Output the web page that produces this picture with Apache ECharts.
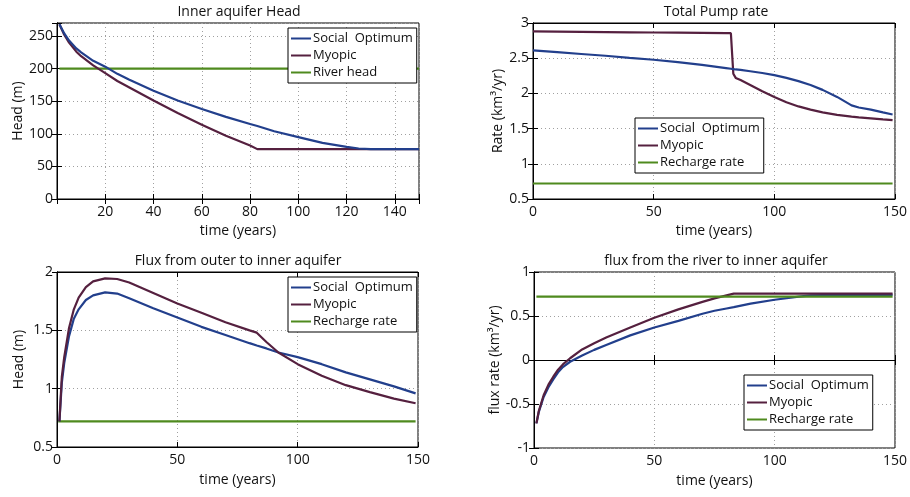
<!DOCTYPE html>
<html>
<head>
<meta charset="utf-8">
<script src="https://cdn.jsdelivr.net/npm/echarts@6/dist/echarts.min.js"></script>
<style>
  html, body { margin: 0; padding: 0; background: #fff; }
  #chart { width: 910px; height: 497px; }
</style>
</head>
<body>
<div id="chart"></div>
<script>
// ---- Inner aquifer head (m) ----
const headTime    = [1, 3, 5, 8, 10, 15, 20, 25, 30, 40, 50, 60, 70, 80, 83, 90, 100, 110, 120, 125, 130, 140, 150];
const headSocial  = [268, 254, 243, 231, 225, 212, 203, 192, 183, 166, 151, 138, 126, 115, 112, 104, 95, 86, 80, 77.5, 76.5, 76.5, 76.5];
const headMyopic  = [268, 252, 240, 226, 219, 205, 193, 181, 171, 151, 132, 114, 97, 82, 76.5, 76.5, 76.5, 76.5, 76.5, 76.5, 76.5, 76.5, 76.5];
const riverTime   = [1, 150];
const riverHead   = [200, 200];

// ---- Total pump rate (km3/yr) ----
const pumpTime    = [0, 10, 20, 30, 40, 50, 60, 70, 80, 82, 83, 84, 86, 90, 95, 100, 105, 110, 115, 120, 126, 132, 135, 140, 145, 149];
const pumpSocial  = [2.61, 2.585, 2.56, 2.535, 2.505, 2.478, 2.445, 2.405, 2.36, 2.35, 2.345, 2.34, 2.335, 2.315, 2.29, 2.26, 2.22, 2.175, 2.12, 2.05, 1.95, 1.83, 1.80, 1.77, 1.73, 1.70];
const pumpMyopic  = [2.88, 2.877, 2.874, 2.871, 2.868, 2.865, 2.862, 2.859, 2.856, 2.855, 2.28, 2.22, 2.19, 2.12, 2.03, 1.95, 1.875, 1.815, 1.77, 1.73, 1.695, 1.67, 1.66, 1.645, 1.63, 1.62];
const rechargeTimeA = [0, 149];
const rechargeA     = [0.72, 0.72];

// ---- Flux from outer to inner aquifer ----
const outerTime   = [1, 2, 3, 5, 7, 9, 12, 15, 20, 25, 30, 40, 50, 60, 70, 80, 83, 87, 92, 100, 110, 120, 130, 140, 149];
const outerSocial = [0.72, 1.05, 1.22, 1.45, 1.6, 1.68, 1.76, 1.80, 1.825, 1.815, 1.775, 1.69, 1.61, 1.53, 1.46, 1.39, 1.37, 1.345, 1.31, 1.27, 1.21, 1.14, 1.08, 1.02, 0.96];
const outerMyopic = [0.72, 1.1, 1.27, 1.52, 1.68, 1.78, 1.87, 1.92, 1.945, 1.94, 1.91, 1.82, 1.73, 1.65, 1.57, 1.50, 1.48, 1.40, 1.31, 1.21, 1.11, 1.03, 0.97, 0.915, 0.875];
const rechargeTimeB = [0.5, 149];
const rechargeB     = [0.72, 0.72];

// ---- Flux from the river to inner aquifer ----
const riverFluxTime   = [1, 2, 4, 6, 8, 10, 12, 15, 20, 25, 30, 40, 50, 60, 70, 75, 80, 83, 90, 100, 110, 115, 120, 149];
const riverFluxSocial = [-0.72, -0.59, -0.42, -0.31, -0.22, -0.14, -0.08, -0.02, 0.05, 0.115, 0.17, 0.28, 0.37, 0.445, 0.525, 0.56, 0.585, 0.60, 0.64, 0.685, 0.72, 0.735, 0.738, 0.74];
const riverFluxMyopic = [-0.72, -0.58, -0.40, -0.28, -0.19, -0.11, -0.05, 0.02, 0.12, 0.19, 0.255, 0.37, 0.48, 0.575, 0.66, 0.70, 0.735, 0.755, 0.755, 0.755, 0.755, 0.755, 0.755, 0.755];
const rechargeTimeC = [1, 149];
const rechargeC     = [0.72, 0.72];

const NAME_SOCIAL = 'Social  Optimum';
const NAME_MYOPIC = 'Myopic';
const NAME_RIVER  = 'River head';
const NAME_RECH   = 'Recharge rate';

const COLOR_SOCIAL = '#223f8c';
const COLOR_MYOPIC = '#55203f';
const COLOR_GREEN  = '#4f8a1e';
const FONT = '"Open Sans", Lato, sans-serif';
const FS = 14;
const FS_LEGEND = 13;

function zip(xs, ys) { return xs.map((x, i) => [x, ys[i]]); }

const grids = [
  { left: 57,  top: 23,  width: 362, height: 176 },
  { left: 533, top: 23,  width: 366, height: 176 },
  { left: 57,  top: 272, width: 361, height: 175 },
  { left: 534, top: 272, width: 365, height: 176 }
];

const xCfg = [
  { min: 0, max: 150, interval: 20, hide: [0, 150], nameGap: 25 },
  { min: 0, max: 150, interval: 50, hide: [], nameGap: 25 },
  { min: 0, max: 150, interval: 50, hide: [], nameGap: 26 },
  { min: 0, max: 150, interval: 50, hide: [], nameGap: 26 }
];
const yCfg = [
  { min: 0,   max: 270, interval: 50,  name: 'Head (m)',            nameGap: 31, hide: [270] },
  { min: 0.5, max: 3,   interval: 0.5, name: 'Rate (km\u00B3/yr)',  nameGap: 28, hide: [] },
  { min: 0.5, max: 2,   interval: 0.5, name: 'Head (m)',            nameGap: 31, hide: [] },
  { min: -1,  max: 1,   interval: 0.5, name: 'flux rate (km\u00B3/yr)', nameGap: 30, hide: [] }
];

const tickStyle = { show: true, inside: true, length: 5, lineStyle: { color: '#000', width: 1 } };
const lineAxis  = { show: true, lineStyle: { color: '#000', width: 1 } };
const gridLine  = { show: true, lineStyle: { color: '#a0a0a0', width: 1, type: [1, 3] } };
const labelText = { color: '#111', fontSize: FS, fontFamily: FONT };

const xAxes = [], yAxes = [];
xCfg.forEach((c, i) => {
  xAxes.push({
    type: 'value', gridIndex: i, position: 'bottom',
    min: c.min, max: c.max, interval: c.interval,
    name: 'time (years)', nameLocation: 'middle', nameGap: c.nameGap,
    nameTextStyle: { color: '#111', fontSize: FS, fontFamily: FONT },
    axisLine: lineAxis, axisTick: tickStyle, splitLine: gridLine,
    axisLabel: Object.assign({ margin: 6, formatter: v => c.hide.includes(v) ? '' : String(v) }, labelText)
  });
});
yCfg.forEach((c, i) => {
  yAxes.push({
    type: 'value', gridIndex: i, position: 'left',
    min: c.min, max: c.max, interval: c.interval,
    name: c.name, nameLocation: 'middle', nameGap: c.nameGap,
    nameTextStyle: { color: '#111', fontSize: FS, fontFamily: FONT },
    axisLine: lineAxis, axisTick: tickStyle, splitLine: gridLine,
    axisLabel: Object.assign({ margin: 4, formatter: v => c.hide.includes(v) ? '' : String(v) }, labelText)
  });
});
// mirrored axes for the inward ticks on the top and right edges of each box
xCfg.forEach((c, i) => {
  xAxes.push({
    type: 'value', gridIndex: i, position: 'top', min: c.min, max: c.max, interval: c.interval,
    axisLine: lineAxis, axisTick: tickStyle, axisLabel: { show: false }, splitLine: { show: false }
  });
});
yCfg.forEach((c, i) => {
  yAxes.push({
    type: 'value', gridIndex: i, position: 'right', min: c.min, max: c.max, interval: c.interval,
    axisLine: lineAxis, axisTick: tickStyle, axisLabel: { show: false }, splitLine: { show: false }
  });
});

function line(name, color, idx, xs, ys) {
  return {
    type: 'line', name: name, xAxisIndex: idx, yAxisIndex: idx,
    data: zip(xs, ys), showSymbol: false, symbol: 'none', smooth: false,
    lineStyle: { color: color, width: 2.2 }, itemStyle: { color: color },
    animation: false, z: 3
  };
}

const series = [
  line(NAME_RIVER,  COLOR_GREEN,  0, riverTime, riverHead),
  line(NAME_MYOPIC, COLOR_MYOPIC, 0, headTime, headMyopic),
  line(NAME_SOCIAL, COLOR_SOCIAL, 0, headTime, headSocial),

  line(NAME_RECH,   COLOR_GREEN,  1, rechargeTimeA, rechargeA),
  line(NAME_MYOPIC, COLOR_MYOPIC, 1, pumpTime, pumpMyopic),
  line(NAME_SOCIAL, COLOR_SOCIAL, 1, pumpTime, pumpSocial),

  line(NAME_RECH,   COLOR_GREEN,  2, rechargeTimeB, rechargeB),
  line(NAME_SOCIAL, COLOR_SOCIAL, 2, outerTime, outerSocial),
  line(NAME_MYOPIC, COLOR_MYOPIC, 2, outerTime, outerMyopic),

  line(NAME_SOCIAL, COLOR_SOCIAL, 3, riverFluxTime, riverFluxSocial),
  line(NAME_MYOPIC, COLOR_MYOPIC, 3, riverFluxTime, riverFluxMyopic),
  line(NAME_RECH,   COLOR_GREEN,  3, rechargeTimeC, rechargeC)
];

function legendBox(left, top, third) {
  return {
    orient: 'vertical', left: left, top: top,
    data: [NAME_SOCIAL, NAME_MYOPIC, third],
    icon: 'rect', itemWidth: 20, itemHeight: 2, itemGap: 4,
    padding: [4, 4, 4, 3],
    borderColor: '#000', borderWidth: 1, backgroundColor: '#fff',
    textStyle: { color: '#111', fontSize: FS_LEGEND, fontFamily: FONT, padding: [0, 0, 0, -3] },
    selectedMode: false, z: 10
  };
}

const titles = [
  { text: 'Inner aquifer Head', x: 239, y: 12 },
  { text: 'Total Pump rate', x: 716, y: 12 },
  { text: 'Flux from outer to inner aquifer', x: 238, y: 261 },
  { text: 'flux from the river to inner aquifer', x: 716, y: 261 }
];

const chart = echarts.init(document.getElementById('chart'), null, { renderer: 'canvas' });
chart.setOption({
  animation: false,
  backgroundColor: '#fff',
  grid: grids.map(g => Object.assign({ show: true, borderColor: '#000', borderWidth: 1, backgroundColor: '#fff' }, g)),
  xAxis: xAxes,
  yAxis: yAxes,
  legend: [
    legendBox(288, 28, NAME_RIVER),
    legendBox(635, 118, NAME_RECH),
    legendBox(288, 277, NAME_RECH),
    legendBox(744, 375, NAME_RECH)
  ],
  graphic: titles.map(t => ({
    type: 'text', x: t.x, y: t.y,
    style: { text: t.text, fill: '#111', font: FS + 'px ' + FONT, textAlign: 'center', textVerticalAlign: 'middle' }
  })),
  series: series
});
</script>
</body>
</html>
